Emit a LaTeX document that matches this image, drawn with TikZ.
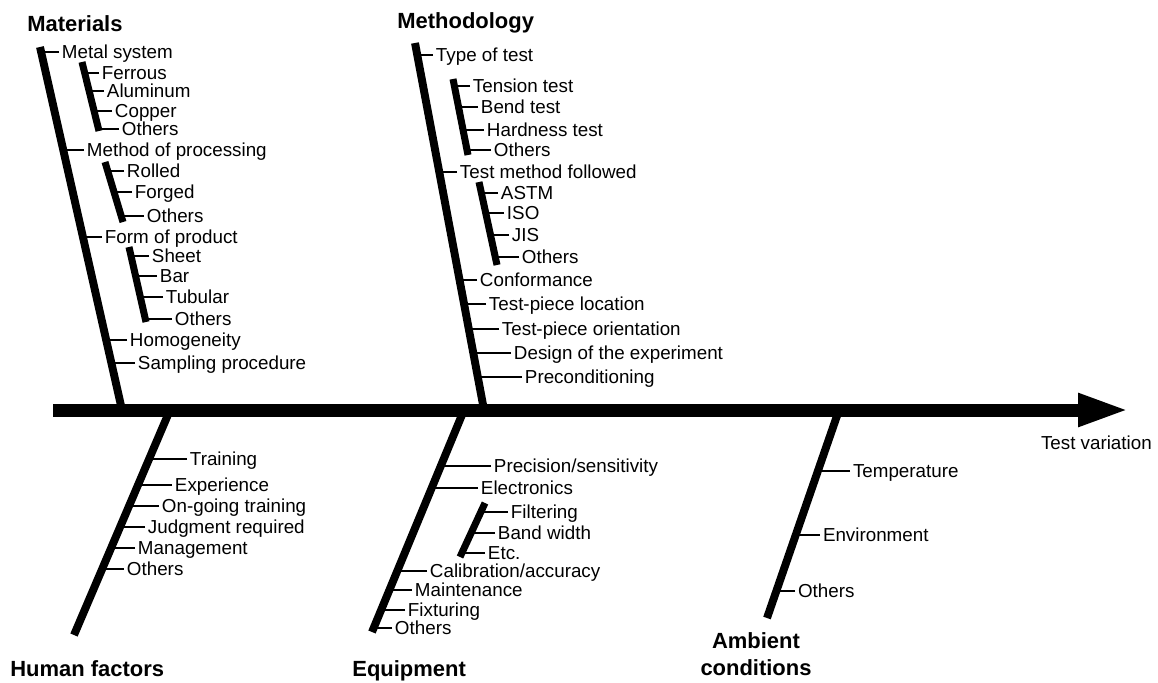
\documentclass[tikz,border=0pt]{standalone}
\usepackage{fontspec}
\setmainfont{Liberation Sans}
\usetikzlibrary{arrows.meta}

\begin{document}
\begin{tikzpicture}[x=0.02cm,y=-0.02cm,
  spine/.style={line width=7.4pt,-{Triangle[length=29.5pt,width=17pt]}},
  bone/.style={line width=4.5pt},
  twig/.style={line width=4pt},
  tick/.style={line width=1.5pt},
  item/.style={anchor=west,inner sep=1.5pt,font=\fontsize{10.7}{12}\selectfont,text height=7.5pt,text depth=0pt},
  cause/.style={anchor=north west,inner sep=0pt,font=\bfseries\fontsize{12.5}{15.3}\selectfont,text height=9pt,text depth=0pt}]
  \useasboundingbox (0,0) rectangle (1158,682);

  % spine
  \coordinate (tail) at (53,410);
  \coordinate (head) at (1130,410);
  \draw[spine] (tail) -- (head);
  \node[item] (effect) at (1038,443) {Test variation};

  % Materials
  \node[cause] (materials) at (27,15) {Materials};
  \coordinate (matTop) at (40,47);
  \coordinate (matFoot) at (122,410);
  \draw[bone] (matTop) -- (matFoot);
  \node[item] (metal) at (59,52) {Metal system};
  \draw[tick] (metal.west) -- ++(-18,0);
  \coordinate (metalTop) at (82,62);
  \coordinate (metalFoot) at (99,131);
  \draw[twig] (metalTop) -- (metalFoot);
  \node[item] (ferrous) at (99,73) {Ferrous};
  \draw[tick] (ferrous.west) -- ++(-14,0);
  \node[item] (aluminum) at (104,91) {Aluminum};
  \draw[tick] (aluminum.west) -- ++(-15,0);
  \node[item] (copper) at (112,111) {Copper};
  \draw[tick] (copper.west) -- ++(-18,0);
  \node[item] (othMetal) at (119,129) {Others};
  \draw[tick] (othMetal.west) -- ++(-20,0);
  \node[item] (process) at (84,150) {Method of processing};
  \draw[tick] (process.west) -- ++(-20,0);
  \coordinate (procTop) at (105,162);
  \coordinate (procFoot) at (123,222);
  \draw[twig] (procTop) -- (procFoot);
  \node[item] (rolled) at (124,171) {Rolled};
  \draw[tick] (rolled.west) -- ++(-16,0);
  \node[item] (forged) at (132,192) {Forged};
  \draw[tick] (forged.west) -- ++(-18,0);
  \node[item] (othProc) at (144,216) {Others};
  \draw[tick] (othProc.west) -- ++(-23,0);
  \node[item] (form) at (102,237) {Form of product};
  \draw[tick] (form.west) -- ++(-18,0);
  \coordinate (formTop) at (129,247);
  \coordinate (formFoot) at (146,322);
  \draw[twig] (formTop) -- (formFoot);
  \node[item] (sheet) at (149,256) {Sheet};
  \draw[tick] (sheet.west) -- ++(-18,0);
  \node[item] (bar) at (157,276) {Bar};
  \draw[tick] (bar.west) -- ++(-21,0);
  \node[item] (tubular) at (163,297) {Tubular};
  \draw[tick] (tubular.west) -- ++(-23,0);
  \node[item] (othForm) at (172,319) {Others};
  \draw[tick] (othForm.west) -- ++(-27,0);
  \node[item] (homog) at (127,340) {Homogeneity};
  \draw[tick] (homog.west) -- ++(-20,0);
  \node[item] (sampling) at (135,363) {Sampling procedure};
  \draw[tick] (sampling.west) -- ++(-23,0);

  % Methodology
  \node[cause] (method) at (397,12) {Methodology};
  \coordinate (metTop) at (415,43);
  \coordinate (metFoot) at (484,410);
  \draw[bone] (metTop) -- (metFoot);
  \node[item] (type) at (433,55) {Type of test};
  \draw[tick] (type.west) -- ++(-16,0);
  \coordinate (typeTop) at (453,79);
  \coordinate (typeFoot) at (468,155);
  \draw[twig] (typeTop) -- (typeFoot);
  \node[item] (tension) at (470,86) {Tension test};
  \draw[tick] (tension.west) -- ++(-16,0);
  \node[item] (bend) at (478,107) {Bend test};
  \draw[tick] (bend.west) -- ++(-20,0);
  \node[item] (hardness) at (484,130) {Hardness test};
  \draw[tick] (hardness.west) -- ++(-21,0);
  \node[item] (othTest) at (491,150) {Others};
  \draw[tick] (othTest.west) -- ++(-24,0);
  \node[item] (followed) at (457,172) {Test method followed};
  \draw[tick] (followed.west) -- ++(-18,0);
  \coordinate (stdTop) at (479,182);
  \coordinate (stdFoot) at (497,265);
  \draw[twig] (stdTop) -- (stdFoot);
  \node[item] (astm) at (498,193) {ASTM};
  \draw[tick] (astm.west) -- ++(-17,0);
  \node[item] (iso) at (504,213) {ISO};
  \draw[tick] (iso.west) -- ++(-18,0);
  \node[item] (jis) at (509,235) {JIS};
  \draw[tick] (jis.west) -- ++(-18,0);
  \node[item] (othStd) at (519,257) {Others};
  \draw[tick] (othStd.west) -- ++(-24,0);
  \node[item] (conform) at (477,280) {Conformance};
  \draw[tick] (conform.west) -- ++(-17,0);
  \node[item] (location) at (486,304) {Test-piece location};
  \draw[tick] (location.west) -- ++(-22,0);
  \node[item] (orient) at (499,329) {Test-piece orientation};
  \draw[tick] (orient.west) -- ++(-30,0);
  \node[item] (design) at (511,353) {Design of the experiment};
  \draw[tick] (design.west) -- ++(-38,0);
  \node[item] (precond) at (522,377) {Preconditioning};
  \draw[tick] (precond.west) -- ++(-44,0);

  % Human factors
  \node[cause] (human) at (10,660) {Human factors};
  \coordinate (humTop) at (170,410);
  \coordinate (humFoot) at (74,635);
  \draw[bone] (humTop) -- (humFoot);
  \node[item] (training) at (187,459) {Training};
  \draw[tick] (training.west) -- ++(-38,0);
  \node[item] (experience) at (172,485) {Experience};
  \draw[tick] (experience.west) -- ++(-34,0);
  \node[item] (ongoing) at (159,506) {On-going training};
  \draw[tick] (ongoing.west) -- ++(-30,0);
  \node[item] (judgment) at (145,527) {Judgment required};
  \draw[tick] (judgment.west) -- ++(-25,0);
  \node[item] (manage) at (135,548) {Management};
  \draw[tick] (manage.west) -- ++(-24,0);
  \node[item] (othHuman) at (124,569) {Others};
  \draw[tick] (othHuman.west) -- ++(-22,0);

  % Equipment
  \node[cause] (equipment) at (352,660) {Equipment};
  \coordinate (eqTop) at (464,410);
  \coordinate (eqFoot) at (372,632);
  \draw[bone] (eqTop) -- (eqFoot);
  \node[item] (precision) at (491,466) {Precision/sensitivity};
  \draw[tick] (precision.west) -- ++(-50,0);
  \node[item] (electronics) at (478,488) {Electronics};
  \draw[tick] (electronics.west) -- ++(-46,0);
  \coordinate (elecTop) at (485,503);
  \coordinate (elecFoot) at (460,557);
  \draw[twig] (elecTop) -- (elecFoot);
  \node[item] (filtering) at (508,512) {Filtering};
  \draw[tick] (filtering.west) -- ++(-27,0);
  \node[item] (bandwidth) at (495,533) {Band width};
  \draw[tick] (bandwidth.west) -- ++(-24,0);
  \node[item] (etc) at (485,553) {Etc.};
  \draw[tick] (etc.west) -- ++(-23,0);
  \node[item] (calib) at (427,571) {Calibration/accuracy};
  \draw[tick] (calib.west) -- ++(-30,0);
  \node[item] (maint) at (412,590) {Maintenance};
  \draw[tick] (maint.west) -- ++(-23,0);
  \node[item] (fixture) at (405,610) {Fixturing};
  \draw[tick] (fixture.west) -- ++(-24,0);
  \node[item] (othEquip) at (392,628) {Others};
  \draw[tick] (othEquip.west) -- ++(-18,0);

  % Ambient conditions
  \node[anchor=north,inner sep=0pt,align=center,font=\bfseries\fontsize{12.5}{15.3}\selectfont] (ambient) at (756,632) {Ambient\\conditions};
  \coordinate (ambTop) at (839,410);
  \coordinate (ambFoot) at (767,618);
  \draw[bone] (ambTop) -- (ambFoot);
  \node[item] (temp) at (850,471) {Temperature};
  \draw[tick] (temp.west) -- ++(-32,0);
  \node[item] (environ) at (820,535) {Environment};
  \draw[tick] (environ.west) -- ++(-24,0);
  \node[item] (othAmb) at (795,591) {Others};
  \draw[tick] (othAmb.west) -- ++(-19,0);
\end{tikzpicture}
\end{document}
